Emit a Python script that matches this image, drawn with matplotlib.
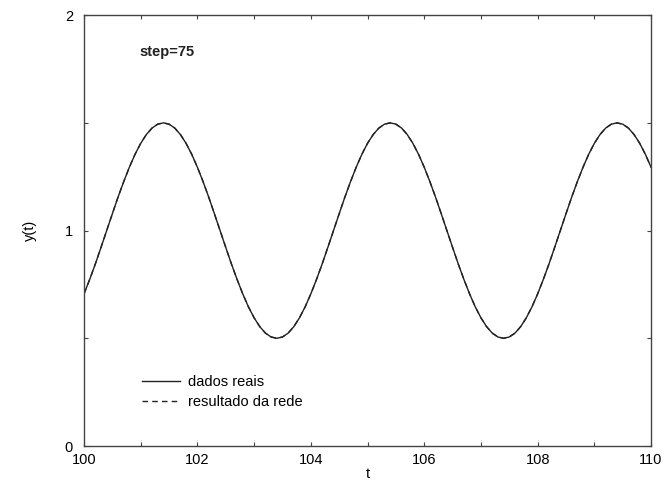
import matplotlib
matplotlib.use("Agg")
import matplotlib.pyplot as plt
from matplotlib.ticker import MultipleLocator

plt.rcParams['font.family'] = ['Liberation Sans', 'DejaVu Sans']

# values, every 0.1 in t (100 .. 110)
t = [100 + 0.1 * i for i in range(101)]
dados_reais = [
    0.706, 0.773, 0.845, 0.922, 1.000, 1.078, 1.155, 1.227, 1.294, 1.354,
    1.405, 1.446, 1.476, 1.494, 1.500, 1.494, 1.476, 1.446, 1.405, 1.354,
    1.294, 1.227, 1.155, 1.078, 1.000, 0.922, 0.845, 0.773, 0.706, 0.646,
    0.595, 0.554, 0.524, 0.506, 0.500, 0.506, 0.524, 0.554, 0.595, 0.646,
    0.706, 0.773, 0.845, 0.922, 1.000, 1.078, 1.155, 1.227, 1.294, 1.354,
    1.405, 1.446, 1.476, 1.494, 1.500, 1.494, 1.476, 1.446, 1.405, 1.354,
    1.294, 1.227, 1.155, 1.078, 1.000, 0.922, 0.845, 0.773, 0.706, 0.646,
    0.595, 0.554, 0.524, 0.506, 0.500, 0.506, 0.524, 0.554, 0.595, 0.646,
    0.706, 0.773, 0.845, 0.922, 1.000, 1.078, 1.155, 1.227, 1.294, 1.354,
    1.405, 1.446, 1.476, 1.494, 1.500, 1.494, 1.476, 1.446, 1.405, 1.354,
    1.294,
]
# the network output sits right on top of the real data
resultado_rede = list(dados_reais)

xticks = [100, 102, 104, 106, 108, 110]
yticks = [0, 1, 2]

fig = plt.figure(figsize=(6.64, 4.83), dpi=100)
ax = fig.add_axes([0.1265, 0.0766, 0.854, 0.892])

ax.plot(t, dados_reais, color='#222222', lw=1.0, label='dados reais')
ax.plot(t, resultado_rede, color='#222222', lw=1.0, ls=(0, (4, 3)), label='resultado da rede')

ax.set_xlim(100, 110)
ax.set_ylim(0, 2)
ax.set_xticks(xticks)
ax.set_yticks(yticks)
ax.xaxis.set_minor_locator(MultipleLocator(1))
ax.yaxis.set_minor_locator(MultipleLocator(0.5))
ax.tick_params(which='both', direction='in', top=True, right=True,
               length=3, width=0.8, color='#444444', labelsize=10.5)
ax.tick_params(axis='x', pad=5)
ax.tick_params(axis='y', pad=8)
for s in ax.spines.values():
    s.set_color('#444444')
    s.set_linewidth(1.0)

ax.set_xlabel('t', fontsize=10.5, labelpad=0)
ax.set_ylabel('y(t)', fontsize=10.5, labelpad=20)

ax.text(0.098, 0.905, 'step=75', transform=ax.transAxes, fontsize=10.5,
        fontweight='bold', color='#222222')

ax.legend(loc='lower left', bbox_to_anchor=(0.08, 0.055), frameon=False,
          fontsize=10.5, handlelength=2.6, handletextpad=0.5, labelspacing=0.45)

fig.savefig('out.png', dpi=100)
